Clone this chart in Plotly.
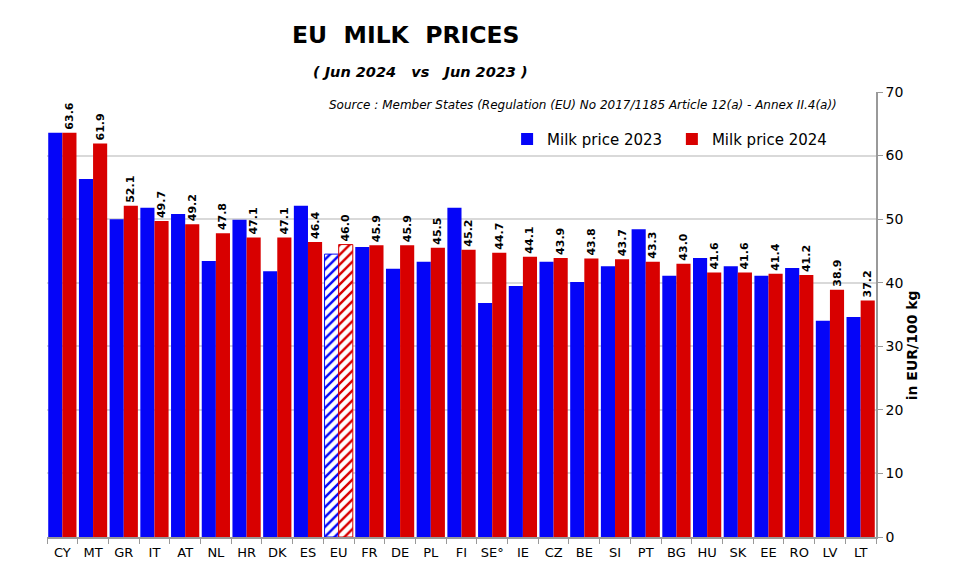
import plotly.graph_objects as go

countries = ["CY", "MT", "GR", "IT", "AT", "NL", "HR", "DK", "ES", "EU", "FR", "DE", "PL", "FI",
             "SE°", "IE", "CZ", "BE", "SI", "PT", "BG", "HU", "SK", "EE", "RO", "LV", "LT"]
price_2023 = [63.6, 56.3, 50.0, 51.8, 50.8, 43.4, 49.9, 41.8, 52.1, 44.5, 45.6, 42.2, 43.3, 51.8,
              36.8, 39.5, 43.3, 40.1, 42.6, 48.4, 41.1, 43.9, 42.6, 41.1, 42.3, 34.0, 34.6]
price_2024 = [63.6, 61.9, 52.1, 49.7, 49.2, 47.8, 47.1, 47.1, 46.4, 46.0, 45.9, 45.9, 45.5, 45.2,
              44.7, 44.1, 43.9, 43.8, 43.7, 43.3, 43.0, 41.6, 41.6, 41.4, 41.2, 38.9, 37.2]
y_ticks = [0, 10, 20, 30, 40, 50, 60, 70]

BLUE = "#0505F8"
RED = "#D80000"
FONT = "DejaVu Sans"

shapes = ["/" if c == "EU" else "" for c in countries]
line_w = [1 if c == "EU" else 0 for c in countries]

fig = go.Figure()
fig.add_trace(go.Bar(
    x=countries, y=price_2023, name="Milk price 2023\u00a0",
    marker=dict(color=BLUE, line=dict(color=BLUE, width=line_w),
                pattern=dict(shape=shapes, fillmode="replace", bgcolor="white", size=7, solidity=0.35)),
))
fig.add_trace(go.Bar(
    x=countries, y=price_2024, name="Milk price 2024",
    marker=dict(color=RED, line=dict(color=RED, width=line_w),
                pattern=dict(shape=shapes, fillmode="replace", bgcolor="white", size=7, solidity=0.35)),
    text=[f"{v:.1f}" for v in price_2024], textposition="outside", textangle=-90,
    constraintext="none",
    textfont=dict(family=FONT, size=11, color="black", weight="bold"),
    cliponaxis=False,
))

fig.update_layout(
    width=951, height=579,
    margin=dict(l=39, r=83, t=84, b=50),
    paper_bgcolor="white", plot_bgcolor="white",
    barmode="group", bargap=0.08, bargroupgap=0,
    font=dict(family=FONT, color="black"),
    showlegend=True,
    legend=dict(orientation="h", x=0.555, y=0.894, xanchor="left", yanchor="middle",
                font=dict(family=FONT, size=15), itemwidth=30, tracegroupgap=0,
                bgcolor="rgba(0,0,0,0)"),
    xaxis=dict(showline=True, linecolor="#999999", linewidth=1.5, ticks="outside", tickson="boundaries",
               ticklen=5, tickcolor="#999999", tickfont=dict(family=FONT, size=13), showgrid=False,
               tickangle=0, ticklabelstandoff=3),
    yaxis=dict(side="right", range=[0, 70], tickvals=y_ticks, showgrid=True, gridcolor="#D9D9D9",
               gridwidth=1.5, showline=True, linecolor="#999999", linewidth=1.5, ticks="outside",
               ticklen=5, tickcolor="#999999", tickfont=dict(family=FONT, size=14),
               zeroline=False),
    annotations=[
        dict(text="EU  MILK  PRICES", x=0.432, y=1.128, xref="paper", yref="paper", showarrow=False,
             font=dict(family=FONT, size=23.5, weight="bold"), xanchor="center", yanchor="middle"),
        dict(text="<i>( Jun 2024   vs   Jun 2023 )</i>", x=0.45, y=1.045, xref="paper", yref="paper",
             showarrow=False, font=dict(family=FONT, size=14.5, weight="bold"), xanchor="center", yanchor="middle"),
        dict(text="<i>Source : Member States (Regulation (EU) No 2017/1185 Article 12(a) - Annex II.4(a))</i>",
             x=0.955, y=0.971, xref="paper", yref="paper", showarrow=False,
             font=dict(family=FONT, size=12), xanchor="right", yanchor="middle"),
        dict(text="in EUR/100 kg", x=1.043, y=0.43, xref="paper", yref="paper", showarrow=False,
             textangle=-90, font=dict(family=FONT, size=14, weight="bold"), xanchor="center", yanchor="middle"),
    ],
)

fig.write_html("out.html")
